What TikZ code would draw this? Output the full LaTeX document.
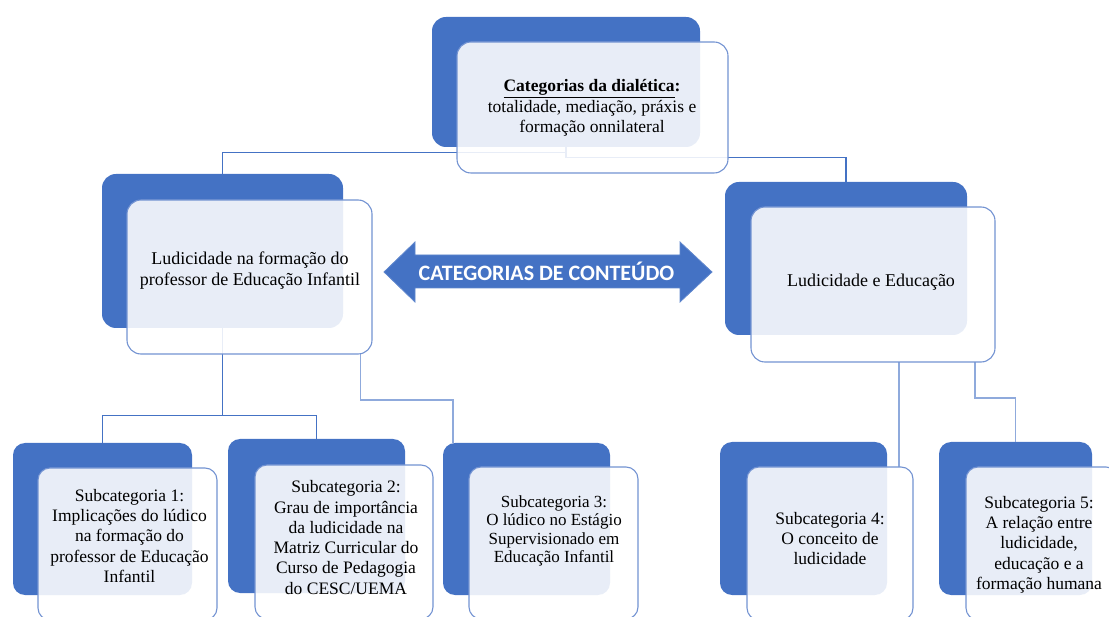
\documentclass[tikz,border=0pt]{standalone}
\usepackage{fontspec}
\setmainfont{Liberation Serif}
\newfontfamily\arrowfont{Carlito}
\definecolor{accent}{HTML}{4472C4}
\definecolor{edge}{HTML}{7393D2}
\definecolor{pale}{HTML}{8FAADC}
\begin{document}
\begin{tikzpicture}[x=1pt,y=-1pt,
  darkbox/.style={fill=accent, rounded corners=14pt, inner sep=0pt, draw=none},
  lightbox/.style={fill=white, fill opacity=0.88, draw=edge, line width=1.1pt,
                   rounded corners=14pt, inner sep=0pt},
  conn/.style={draw=accent, line width=1.1pt},
  connpale/.style={draw=pale, line width=1.1pt},
  txt/.style={align=center, inner sep=0pt, font=\fontsize{17.5}{20.3}\selectfont},
]
\clip (0,0) rectangle (1109,617);

% back (dark) panels
\node[darkbox, minimum width=268pt, minimum height=130pt] (topD)   at (566,82)    {};
\node[darkbox, minimum width=241pt, minimum height=154pt] (leftD)  at (222.5,251) {};
\node[darkbox, minimum width=242pt, minimum height=153pt] (rightD) at (846,258.5) {};
\node[darkbox, minimum width=179pt, minimum height=152pt, rounded corners=12pt] (s1D) at (102.5,519) {};
\node[darkbox, minimum width=177pt, minimum height=154pt, rounded corners=12pt] (s2D) at (316.5,516) {};
\node[darkbox, minimum width=167pt, minimum height=152pt, rounded corners=12pt] (s3D) at (526.5,519) {};
\node[darkbox, minimum width=167pt, minimum height=153pt, rounded corners=12pt] (s4D) at (803.5,518.5) {};
\node[darkbox, minimum width=153pt, minimum height=153pt, rounded corners=12pt] (s5D) at (1015.5,518.5) {};

% tree connectors
\draw[conn] (topD.south) -- ++(0,5) -| (leftD.north);
\draw[conn] (topD.south) -- ++(0,10) -| (rightD.north);
\draw[conn] (leftD.south) -- ++(0,87) -| (s1D.north);
\draw[conn] (leftD.south) -- ++(0,87) -| (s2D.north);

% secondary connectors
\coordinate (lB) at (360.5,354);
\coordinate (lC) at (453,443);
\draw[connpale] (lB) |- (453,400) -- (lC);
\coordinate (rA) at (899,362);
\coordinate (rB) at (899,467);
\draw[connpale] (rA) -- (rB);
\coordinate (rC) at (975,362);
\draw[connpale] (rC) |- (1015.5,398) -- (s5D.north);

% front (light) panels
\node[lightbox, minimum width=271pt, minimum height=131pt] (topL)   at (592.5,107.5) {};
\node[lightbox, minimum width=245pt, minimum height=154pt] (leftL)  at (249.5,277)   {};
\node[lightbox, minimum width=244pt, minimum height=155pt] (rightL) at (873,284.5)   {};
\node[lightbox, minimum width=179pt, minimum height=152pt, rounded corners=12pt] (s1L) at (127.5,544) {};
\node[lightbox, minimum width=178pt, minimum height=154pt, rounded corners=12pt] (s2L) at (344,542)   {};
\node[lightbox, minimum width=169pt, minimum height=152pt, rounded corners=12pt] (s3L) at (553.5,543) {};
\node[lightbox, minimum width=166pt, minimum height=153pt, rounded corners=12pt] (s4L) at (830,543.5) {};
\node[lightbox, minimum width=152pt, minimum height=153pt, rounded corners=12pt] (s5L) at (1042,543.5) {};

% labels
\node[txt] (topT) at (592,108)
  {\textbf{\underline{Categorias da dialética}:}\\totalidade, mediação, práxis e\\formação onnilateral};
\node[txt, font=\fontsize{18}{21}\selectfont] (leftT) at (250,271)
  {Ludicidade na formação do\\professor de Educação Infantil};
\node[txt, font=\fontsize{18}{21}\selectfont] (rightT) at (871,282) {Ludicidade e Educação};
\node[txt] (s1T) at (129.5,536)
  {Subcategoria 1:\\Implicações do lúdico\\na formação do\\professor de Educação\\Infantil};
\node[txt] (s2T) at (346,537.5)
  {Subcategoria 2:\\Grau de importância\\da ludicidade na\\Matriz Curricular do\\Curso de Pedagogia\\do CESC/UEMA};
\node[txt, font=\fontsize{17}{18.3}\selectfont] (s3T) at (554,531)
  {Subcategoria 3:\\O lúdico no Estágio\\Supervisionado em\\Educação Infantil};
\node[txt] (s4T) at (830,538.5)
  {Subcategoria 4:\\O conceito de\\ludicidade};
\node[txt] (s5T) at (1039,544.5)
  {Subcategoria 5:\\A relação entre\\ludicidade,\\educação e a\\formação humana};

% double-headed banner arrow
\fill[accent, draw=accent!85!white, line width=0.8pt]
  (384,272) -- (415,242) -- (415,255) -- (680,255) -- (680,242) -- (712,272)
  -- (680,302) -- (680,288) -- (415,288) -- (415,302) -- cycle;
\node[inner sep=0pt, text=white, font=\arrowfont\bfseries\fontsize{22}{24}\selectfont]
  (arrowT) at (546.5,271) {CATEGORIAS DE CONTEÚDO};
\end{tikzpicture}
\end{document}
